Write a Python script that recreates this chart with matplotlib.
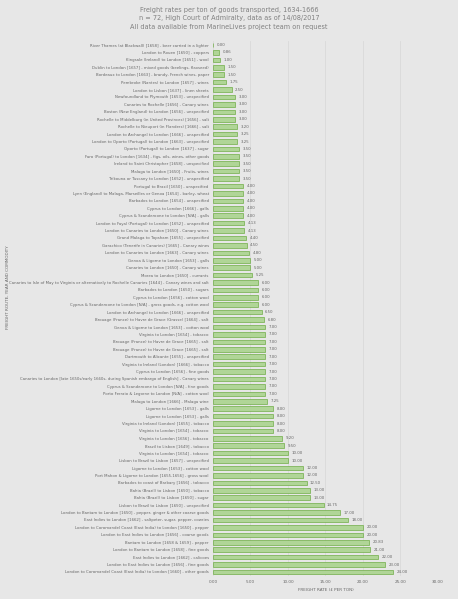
import numpy as np
import matplotlib
matplotlib.use("Agg")
import matplotlib.pyplot as plt

# Rutas / años / mercancías (de arriba hacia abajo)
routes = [
    "River Thames (at Blackwall) [1658] - beer carried in a lighter",
    "London to Rouen [1650] - coppers",
    "Kingsale (Ireland) to London [1651] - wool",
    "Dublin to London [1657] - mixed goods (beelings, flaxseed)",
    "Bordeaux to London [1663] - brandy, French wines, paper",
    "Pembroke (Nantes) to London [1657] - wines",
    "London to Lisbon [1637] - linen sheets",
    "Newfoundland to Plymouth [1653] - unspecified",
    "Canaries to Rochelle [1656] - Canary wines",
    "Boston (New England) to London [1656] - unspecified",
    "Rochelle to Middelburg (in United Provinces) [1656] - salt",
    "Rochelle to Nieuport (in Flanders) [1666] - salt",
    "London to Archangel to London [1666] - unspecified",
    "London to Oporto (Portugal) to London [1663] - unspecified",
    "Oporto (Portugal) to London [1637] - sugar",
    "Faro (Portugal) to London [1634] - figs, oils, wines, other goods",
    "Ireland to Saint Christopher [1658] - unspecified",
    "Malaga to London [1650] - Fruits, wines",
    "Trikouna or Tuscany to London [1652] - unspecified",
    "Portugal to Brazil [1650] - unspecified",
    "Lynn (England) to Malaga, Marseilles or Genoa [1654] - barley, wheat",
    "Barbados to London [1654] - unspecified",
    "Cyprus to London [1666] - galls",
    "Cyprus & Scanderoone to London [N/A] - galls",
    "London to Fayal (Portugal) to London [1652] - unspecified",
    "London to Canaries to London [1650] - Canary wines",
    "Grand Malaga to Topsham [1655] - unspecified",
    "Garachico (Tenerife in Canaries) [1665] - Canary wines",
    "London to Canaries to London [1663] - Canary wines",
    "Genoa & Ligorne to London [1653] - galls",
    "Canaries to London [1650] - Canary wines",
    "Morea to London [1650] - currants",
    "Canaries to Isle of May to Virginia or alternatively to Rochelle Canaries [1644] - Canary wines and salt",
    "Barbados to London [1650] - sugars",
    "Cyprus to London [1656] - cotton wool",
    "Cyprus & Scanderoone to London [N/A] - gross goods, e.g. cotton wool",
    "London to Archangel to London [1666] - unspecified ",
    "Brouage (France) to Havre de Grace (Grasse) [1664] - salt",
    "Genoa & Ligorne to London [1653] - cotton wool",
    "Virginia to London [1654] - tobacco",
    "Brouage (France) to Havre de Grace [1665] - salt",
    "Brouage (France) to Havre de Grace [1665] - salt ",
    "Dartmouth to Alicante [1655] - unspecified",
    "Virginia to Ireland (London) [1666] - tobacco",
    "Cyprus to London [1656] - fine goods",
    "Canaries to London [late 1650s/early 1660s, during Spanish embargo of English] - Canary wines",
    "Cyprus & Scanderoone to London [N/A] - fine goods",
    "Porto Ferraio & Legorne to London [N/A] - cotton wool",
    "Malaga to London [1666] - Malaga wine",
    "Ligorne to London [1653] - galls",
    "Ligorne to London [1653] - galls ",
    "Virginia to Ireland (London) [1655] - tobacco",
    "Virginia to London [1654] - tobacco ",
    "Virginia to London [1656] - tobacco",
    "Brazil to Lisbon [1649] - tobacco",
    "Virginia to London [1654] - tobacco  ",
    "Lisbon to Brazil to Lisbon [1657] - unspecified",
    "Ligorne to London [1653] - cotton wool",
    "Port Mahon & Ligorne to London [1655-1656] - gross wool",
    "Barbados to coast of Barbary [1656] - tobacco",
    "Bahia (Brazil) to Lisbon [1650] - tobacco",
    "Bahia (Brazil) to Lisbon [1650] - sugar",
    "Lisbon to Brazil to Lisbon [1650] - unspecified",
    "London to Bantam to London [1650] - pepper, ginger & other coarse goods",
    "East Indies to London [1662] - saltpeter, sugar, pepper, cowries",
    "London to Coromandel Coast (East India) to London [1650] - pepper",
    "London to East Indies to London [1656] - coarse goods",
    "Bantam to London [1658 & 1659] - pepper",
    "London to Bantam to London [1658] - fine goods",
    "East Indies to London [1662] - calicoes",
    "London to East Indies to London [1656] - fine goods",
    "London to Coromandel Coast (East India) to London [1660] - other goods",
]

# Flete en £ por tonelada
rates = [
    0.00, 0.86, 1.00, 1.50, 1.50, 1.75, 2.50, 3.00, 3.00, 3.00,
    3.00, 3.20, 3.25, 3.25, 3.50, 3.50, 3.50, 3.50, 3.50, 4.00,
    4.00, 4.00, 4.00, 4.00, 4.13, 4.13, 4.40, 4.50, 4.80, 5.00,
    5.00, 5.25, 6.00, 6.00, 6.00, 6.00, 6.50, 6.80, 7.00, 7.00,
    7.00, 7.00, 7.00, 7.00, 7.00, 7.00, 7.00, 7.00, 7.25, 8.00,
    8.00, 8.00, 8.00, 9.20, 9.50, 10.00, 10.00, 12.00, 12.00, 12.50,
    13.00, 13.00, 14.75, 17.00, 18.00, 20.00, 20.00, 20.83, 21.00, 22.00,
    23.00, 24.00,
]

x_ticks = [0, 5, 10, 15, 20, 25, 30]

bg = "#e7e7e7"
txt = "#666666"

fig = plt.figure(figsize=(4.58, 5.99), dpi=100, facecolor=bg)
ax = fig.add_axes([0.465, 0.039, 0.491, 0.892], facecolor=bg)

y = np.arange(len(routes))
ax.barh(y, rates, height=0.62, color="#b0d597", edgecolor="#70ad47", linewidth=0.5, zorder=3)

for yi, v in zip(y, rates):
    ax.text(v + 0.45, yi, f"{v:.2f}", va="center", ha="left", fontsize=2.8, color=txt)

ax.set_yticks(y)
ax.set_yticklabels([r.strip() for r in routes], fontsize=2.8, color=txt)
ax.set_ylim(len(routes) - 0.5, -0.5)
ax.set_xlim(0, 30)
ax.set_xticks(x_ticks)
ax.set_xticklabels([f"{t:.2f}" for t in x_ticks], fontsize=3, color=txt)
ax.tick_params(axis="both", length=0, pad=3)
ax.grid(axis="x", color="#d9d9d9", linewidth=0.6, zorder=0)
for s in ax.spines.values():
    s.set_visible(False)

ax.set_xlabel("FREIGHT RATE (£ PER TON)", fontsize=3, color=txt, labelpad=3)
fig.text(0.018, 0.52, "FREIGHT ROUTE, YEAR AND COMMODITY", rotation=90,
         fontsize=3, color=txt, ha="center", va="center")

fig.text(0.5, 0.988, "Freight rates per ton of goods transported, 1634-1666\n"
         "n = 72, High Court of Admiralty, data as of 14/08/2017\n"
         "All data available from MarineLives project team on request",
         ha="center", va="top", fontsize=4.7, color="#808080", linespacing=1.45)

fig.savefig("out.png", dpi=100, facecolor=bg)
